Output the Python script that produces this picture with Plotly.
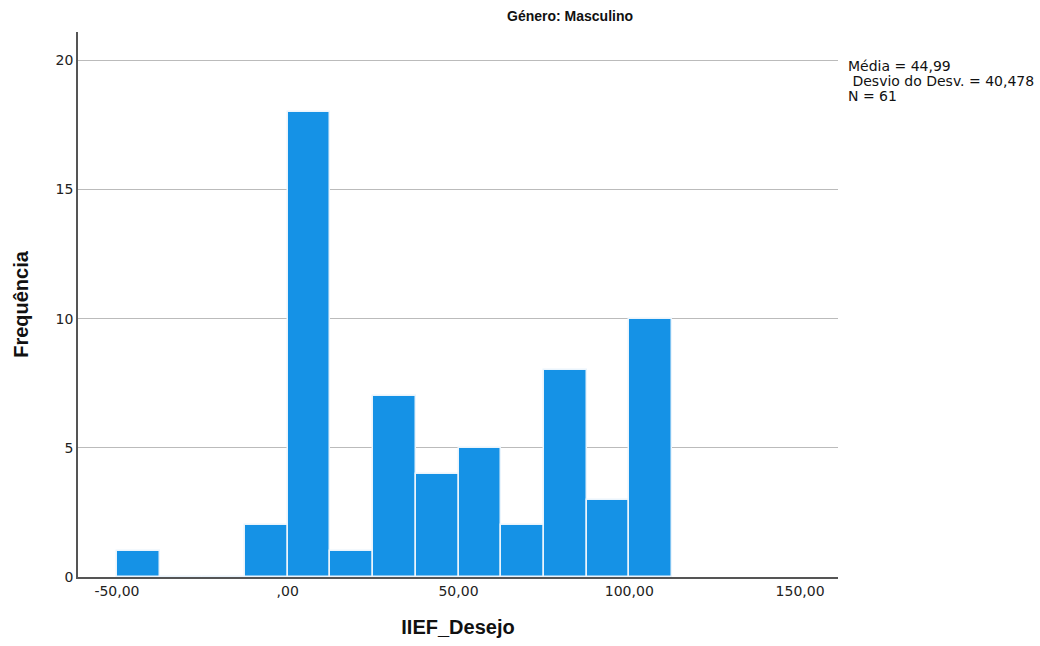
import plotly.graph_objects as go

bin_centers = [-43.75, -31.25, -18.75, -6.25, 6.25, 18.75, 31.25, 43.75, 56.25, 68.75, 81.25, 93.75, 106.25]
counts = [1, 0, 0, 2, 18, 1, 7, 4, 5, 2, 8, 3, 10]
bin_width = 12.5
x_ticks = [-50, 0, 50, 100, 150]
x_tick_labels = ["-50,00", ",00", "50,00", "100,00", "150,00"]
y_ticks = [0, 5, 10, 15, 20]
stats_lines = ["Média = 44,99", " Desvio do Desv. = 40,478", "N = 61"]

fig = go.Figure()
fig.add_trace(go.Bar(
    x=bin_centers, y=counts, width=[bin_width] * len(counts),
    marker=dict(color="#1592E6", line=dict(color="#EAF4FC", width=1.5)),
    showlegend=False, hoverinfo="x+y",
))

font_family = "Liberation Sans, Arial, sans-serif"
tick_family = "DejaVu Sans, sans-serif"
fig.update_layout(
    width=1040, height=646,
    margin=dict(l=78, r=202, t=32, b=69),
    paper_bgcolor="white", plot_bgcolor="white",
    font=dict(family=font_family, color="#222222"),
    bargap=0,
    xaxis=dict(
        range=[-61.4, 161.1], tickvals=x_ticks, ticktext=x_tick_labels,
        showgrid=False, zeroline=False, showline=True, linecolor="#555555", linewidth=1.5,
        ticks="", tickfont=dict(size=14, color="#222222", family=tick_family),
        title=dict(text="<b>IIEF_Desejo</b>", font=dict(size=20, color="#111111"), standoff=22),
    ),
    yaxis=dict(
        range=[0, 21.1], tickvals=y_ticks,
        showgrid=True, gridcolor="#BBBBBB", gridwidth=1, zeroline=False,
        showline=True, linecolor="#555555", linewidth=1.5,
        ticks="", tickfont=dict(size=14, color="#222222", family=tick_family),
        title=dict(text="<b>Frequência</b>", font=dict(size=20, color="#111111"), standoff=22),
    ),
)

fig.add_annotation(
    text="<b>Género: Masculino</b>", xref="paper", yref="paper",
    x=0.647, y=1.0, yshift=16, xanchor="center", yanchor="middle",
    showarrow=False, font=dict(size=14, color="#111111"),
)
for i, line in enumerate(stats_lines):
    fig.add_annotation(
        text=line.replace(" ", "&nbsp;", 1) if line.startswith(" ") else line,
        xref="paper", yref="paper",
        x=1.0, xshift=8, y=1.0, yshift=-34 - 15 * i, xanchor="left", yanchor="middle", align="left",
        showarrow=False, font=dict(size=14, color="#111111", family=tick_family),
    )

fig.write_html("out.html")
